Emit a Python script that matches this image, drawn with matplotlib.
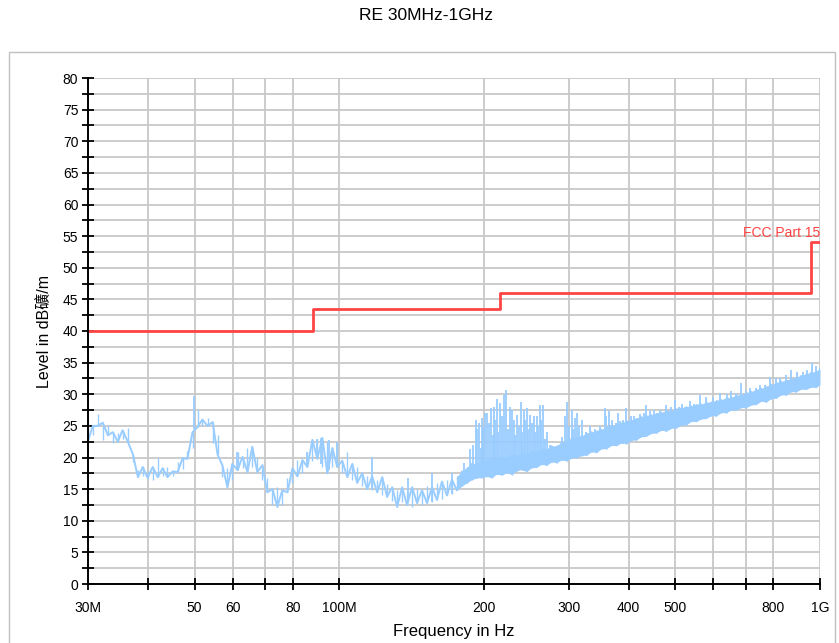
import numpy as np
import matplotlib
matplotlib.use("Agg")
import matplotlib.pyplot as plt
from matplotlib.patches import Rectangle
from matplotlib.ticker import FixedLocator, MultipleLocator, NullLocator

plt.rcParams['font.family'] = ['Liberation Sans', 'Noto Sans CJK SC', 'DejaVu Sans']

# FCC Part 15 limit (MHz, dB), step edges
limit_edges = [30, 88, 216, 960, 1000]
limit_level = [40, 43.5, 46, 54, 54]

# measured sweep: frequency (MHz) with lower / upper envelope of the trace (dB)
sweep_freq = [
    30.0, 30.7, 31.4, 32.2, 33.0, 33.8, 34.6, 35.4, 36.3, 37.2,
    38.1, 39.0, 39.9, 40.9, 41.9, 42.9, 43.9, 45.0, 46.1, 47.2,
    48.3, 49.5, 50.7, 51.9, 53.2, 54.5, 55.8, 57.1, 58.5, 59.9,
    61.4, 62.9, 64.4, 65.9, 67.5, 69.2, 70.8, 72.6, 74.3, 76.1,
    78.0, 79.9, 81.8, 83.8, 85.8, 87.9, 90.0, 92.2, 94.4, 96.7,
    99.0, 101.4, 103.9, 106.4, 108.9, 111.6, 114.3, 117.0, 119.9, 122.8,
    125.7, 128.8, 131.9, 135.1, 138.3, 141.7, 145.1, 148.6, 152.2, 155.9,
    159.6, 163.5, 167.5, 171.5, 175.6, 179.9, 184.2, 188.7, 193.3, 197.9,
    202.7, 207.6, 212.6, 217.8, 223.0, 228.4, 233.9, 239.6, 245.4, 251.3,
    257.4, 263.6, 270.0, 276.5, 283.2, 290.0, 297.1, 304.2, 311.6, 319.1,
    326.8, 334.8, 342.9, 351.2, 359.6, 368.3, 377.2, 386.4, 395.7, 405.3,
    415.1, 425.1, 435.4, 445.9, 456.7, 467.8, 479.1, 490.6, 502.5, 514.7,
    527.1, 539.9, 552.9, 566.3, 580.0, 594.0, 608.4, 623.1, 638.2, 653.6,
    669.4, 685.6, 702.2, 719.2, 736.6, 754.4, 772.7, 791.4, 810.5, 830.1,
    850.2, 870.8, 891.8, 913.4, 935.5, 958.1, 981.3, 1000.0]
sweep_lo = [
    22.6, 23.5, 25.0, 22.8, 23.5, 22.3, 22.5, 23.0, 22.5, 19.3,
    16.9, 17.0, 16.8, 16.4, 16.9, 17.0, 16.9, 17.0, 17.7, 18.2,
    19.8, 21.5, 24.8, 25.0, 25.0, 22.3, 20.5, 16.9, 15.3, 16.5,
    18.0, 18.3, 17.7, 18.5, 17.7, 16.5, 14.5, 12.5, 12.2, 12.5,
    14.5, 16.0, 17.0, 17.5, 18.5, 19.5, 19.8, 18.5, 17.5, 18.5,
    18.5, 17.5, 16.9, 16.5, 16.0, 15.5, 15.0, 14.9, 14.5, 14.0,
    13.8, 13.2, 12.2, 13.0, 12.5, 12.2, 12.8, 12.5, 12.8, 13.0,
    13.3, 13.5, 14.0, 14.3, 14.8, 15.5, 16.0, 16.5, 16.8, 16.8,
    17.0, 16.8, 17.4, 17.2, 17.6, 17.3, 17.9, 18.1, 17.8, 18.4,
    18.5, 18.9, 18.8, 19.3, 19.2, 19.6, 19.5, 19.9, 20.0, 20.3,
    20.4, 20.9, 20.8, 21.4, 21.4, 21.9, 21.9, 22.3, 22.2, 22.7,
    22.8, 23.3, 23.4, 23.8, 23.9, 24.3, 24.2, 24.6, 24.7, 25.1,
    25.2, 25.7, 25.7, 26.1, 26.2, 26.6, 26.6, 27.1, 27.1, 27.5,
    27.5, 27.9, 27.9, 28.3, 28.4, 28.9, 28.8, 29.3, 29.4, 29.9,
    29.9, 30.4, 30.4, 30.8, 30.8, 31.1, 31.1, 31.5]
sweep_hi = [
    25.5, 25.0, 26.8, 25.5, 25.2, 24.0, 23.9, 24.3, 24.7, 20.5,
    18.0, 18.5, 17.8, 18.5, 19.9, 18.3, 18.5, 17.8, 19.3, 19.9,
    21.0, 24.0, 27.5, 26.0, 26.2, 25.6, 23.5, 18.8, 18.3, 19.0,
    20.9, 20.1, 21.5, 21.7, 19.9, 18.8, 16.8, 15.0, 15.3, 14.8,
    16.8, 18.3, 19.6, 19.6, 20.9, 22.8, 22.9, 23.1, 22.5, 21.5,
    22.5, 19.5, 20.9, 19.0, 18.5, 17.5, 17.0, 17.0, 16.5, 16.9,
    15.8, 15.3, 14.8, 15.3, 14.5, 15.3, 15.0, 14.8, 15.5, 15.3,
    16.0, 16.2, 16.5, 16.5, 17.0, 17.8, 18.5, 19.0, 19.2, 19.5,
    19.6, 19.9, 19.8, 20.1, 20.1, 20.4, 20.4, 20.6, 20.5, 20.9,
    21.0, 21.3, 21.4, 21.8, 21.9, 22.4, 22.7, 23.0, 23.3, 23.4,
    23.9, 24.0, 24.3, 24.4, 24.9, 25.0, 25.3, 25.4, 25.9, 25.9,
    26.3, 26.4, 26.7, 26.7, 27.1, 27.1, 27.5, 27.4, 27.8, 27.8,
    28.1, 28.1, 28.5, 28.4, 28.8, 28.7, 29.1, 29.1, 29.5, 29.5,
    29.9, 29.9, 30.3, 30.4, 30.8, 30.9, 31.3, 31.5, 31.9, 32.0,
    32.3, 32.4, 32.8, 32.9, 33.3, 33.4, 33.7, 34.0]

# narrow emission spikes (MHz, base dB, top dB)
spike_freq = [
    49.9, 61.2, 85.8, 90.0, 91.5, 95.0, 99.0, 117.0, 138.8, 155.9,
    171.5, 181.5, 186.9, 192.4, 195.2, 198.0, 200.8, 202.7, 206.8, 209.8,
    212.7, 215.8, 220.0, 222.1, 226.4, 230.8, 234.1, 238.6, 242.1, 245.6,
    249.2, 254.0, 257.7, 261.4, 265.2, 270.3, 274.2, 290.5, 294.7, 297.1,
    304.7, 309.0, 311.6, 319.6, 332.2, 341.0, 357.0, 359.6, 363.8, 375.5,
    384.5, 395.7, 403.9, 422.0, 435.4, 443.7, 464.5, 479.0, 499.2, 516.0,
    536.3, 562.7, 580.0, 619.3, 653.6, 685.6, 715.0, 750.0, 786.9, 826.0,
    870.8, 922.0, 962.0, 981.3,
    189.5, 193.8, 197.0, 199.4, 204.7, 208.3, 211.2, 214.2, 218.0, 224.2,
    228.5, 232.5, 236.3, 240.3, 243.8, 247.4, 251.6, 255.8, 259.5, 263.3,
    267.8,
    300.5, 307.0, 315.0, 326.0, 348.0, 369.0, 380.0, 390.0, 410.0, 430.0,
    452.0, 472.0, 490.0, 508.0, 525.0, 548.0, 600.0, 640.0, 670.0, 700.0,
    735.0, 770.0, 810.0, 850.0, 895.0, 940.0]
spike_base = [
    24.5, 18.0, 18.5, 19.8, 19.0, 18.0, 18.5, 15.0, 12.8, 13.0,
    14.3, 15.7, 16.3, 16.8, 16.8, 16.8, 17.0, 17.0, 16.8, 17.2,
    17.4, 17.2, 17.4, 17.6, 17.4, 17.8, 17.9, 18.1, 17.8, 18.0,
    18.4, 18.4, 18.5, 18.8, 18.9, 18.8, 19.1, 19.6, 19.5, 19.5,
    19.9, 20.0, 20.0, 20.3, 20.7, 20.8, 21.4, 21.4, 21.6, 21.9,
    22.2, 22.2, 22.6, 23.1, 23.4, 23.7, 24.2, 24.3, 24.7, 25.1,
    25.6, 26.0, 26.2, 27.0, 27.5, 27.9, 28.2, 28.8, 29.2, 29.8,
    30.4, 30.8, 31.1, 31.1,
    16.5, 16.8, 16.8, 17.0, 16.9, 17.0, 17.3, 17.3, 17.6, 17.5,
    17.3, 17.9, 18.0, 18.0, 17.9, 18.2, 18.4, 18.4, 18.7, 18.9,
    18.8,
    19.7, 19.9, 20.2, 20.4, 21.2, 21.9, 22.1, 22.2, 22.7, 23.3,
    23.8, 24.2, 24.6, 24.9, 25.2, 25.7, 26.6, 27.1, 27.5, 27.9,
    28.3, 29.0, 29.4, 29.9, 30.4, 30.8]
spike_top = [
    29.8, 20.9, 20.9, 22.9, 23.1, 22.8, 22.5, 20.1, 16.8, 17.5,
    17.5, 19.2, 21.4, 26.0, 25.4, 26.2, 27.0, 27.0, 27.8, 28.0,
    29.2, 28.6, 29.9, 30.7, 28.0, 25.9, 26.7, 28.7, 27.5, 27.8,
    26.7, 26.5, 26.5, 28.3, 28.3, 24.1, 22.0, 23.3, 26.5, 28.7,
    27.5, 26.2, 27.0, 25.9, 25.0, 24.5, 27.8, 26.5, 27.3, 25.5,
    25.8, 27.8, 26.5, 26.8, 28.3, 27.3, 27.5, 28.3, 29.1, 28.5,
    29.0, 29.9, 29.5, 30.2, 30.5, 31.7, 31.0, 31.5, 32.8, 32.5,
    33.8, 33.5, 34.9, 34.5,
    22.0, 24.5, 21.5, 24.8, 25.5, 23.5, 26.0, 24.0, 26.5, 24.5,
    27.5, 23.5, 25.0, 24.0, 26.0, 24.5, 25.5, 24.0, 25.0, 26.0,
    23.0,
    25.0, 24.5, 25.0, 24.0, 25.0, 26.0, 27.0, 26.0, 26.5, 27.0,
    27.5, 27.0, 28.0, 28.0, 28.0, 28.5, 29.5, 30.0, 30.2, 30.5,
    31.0, 31.5, 32.5, 33.0, 33.5, 33.8]

x_ticks = [30, 40, 50, 60, 70, 80, 100, 200, 300, 400, 500, 600, 700, 800, 1000]
x_labels = ['30M', '', '50', '60', '', '80', '100M', '200', '300', '400', '500', '', '', '800', '1G']

trace_color = '#99ccff'
limit_color = '#ff4444'
grid_color = '#c8c8c8'

fig = plt.figure(figsize=(8.39, 6.43), dpi=100)
ax = fig.add_axes([88 / 839, 59 / 643, 732 / 839, 506 / 643])

# outer frame of the report page
fig.patches.append(Rectangle((9 / 839, -0.05), 826 / 839, 591 / 643 + 0.05,
                             transform=fig.transFigure, fill=False,
                             edgecolor='#c0c0c0', linewidth=1.0))

# trace: jagged line alternating between the envelopes, fine vertical jitter,
# and a solid band where the sweep is dense
freq = np.array(sweep_freq)
lo = np.array(sweep_lo)
hi = np.array(sweep_hi)
jag = np.where(np.arange(len(freq)) % 2 == 0, lo, hi)
dense = freq >= 175
ax.fill_between(freq, lo, hi, where=dense, color=trace_color, linewidth=0, zorder=3)
ax.vlines(freq, lo, hi, color=trace_color, linewidth=1.0, zorder=3)
ax.plot(freq, jag, color=trace_color, linewidth=1.4, zorder=3)
ax.vlines(spike_freq, spike_base, spike_top, color=trace_color, linewidth=1.3, zorder=3)

# limit line
ax.step(limit_edges, limit_level, where='post', color=limit_color, linewidth=2.0, zorder=4)
ax.text(1000, 54.4, 'FCC Part 15', color=limit_color, fontsize=10,
        ha='right', va='bottom', zorder=5)

ax.set_xscale('log')
ax.set_xlim(30, 1000)
ax.set_ylim(0, 80)
ax.xaxis.set_major_locator(FixedLocator(x_ticks))
ax.xaxis.set_minor_locator(NullLocator())
ax.set_xticklabels(x_labels)
ax.yaxis.set_major_locator(MultipleLocator(5))
ax.yaxis.set_minor_locator(MultipleLocator(2.5))

ax.grid(True, which='major', axis='both', color=grid_color, linewidth=1.3, zorder=0)
ax.grid(True, which='minor', axis='y', color=grid_color, linewidth=1.3, zorder=0)
ax.set_axisbelow(True)

for side in ['top', 'right']:
    ax.spines[side].set_visible(False)
for side in ['left', 'bottom']:
    ax.spines[side].set_linewidth(1.4)
    ax.spines[side].set_zorder(6)

ax.tick_params(axis='both', which='both', direction='inout', length=8, width=1.3,
               labelsize=10, colors='black')
ax.tick_params(axis='x', pad=8)
ax.tick_params(axis='y', pad=3)

ax.set_xlabel('Frequency in Hz', fontsize=12, labelpad=7)
ax.set_ylabel('Level in dB礦/m', fontsize=11.5, labelpad=8)

fig.text(426 / 839, 1 - 16 / 643, 'RE 30MHz-1GHz', ha='center', va='center', fontsize=12.5)

fig.savefig('out.png', dpi=100)
